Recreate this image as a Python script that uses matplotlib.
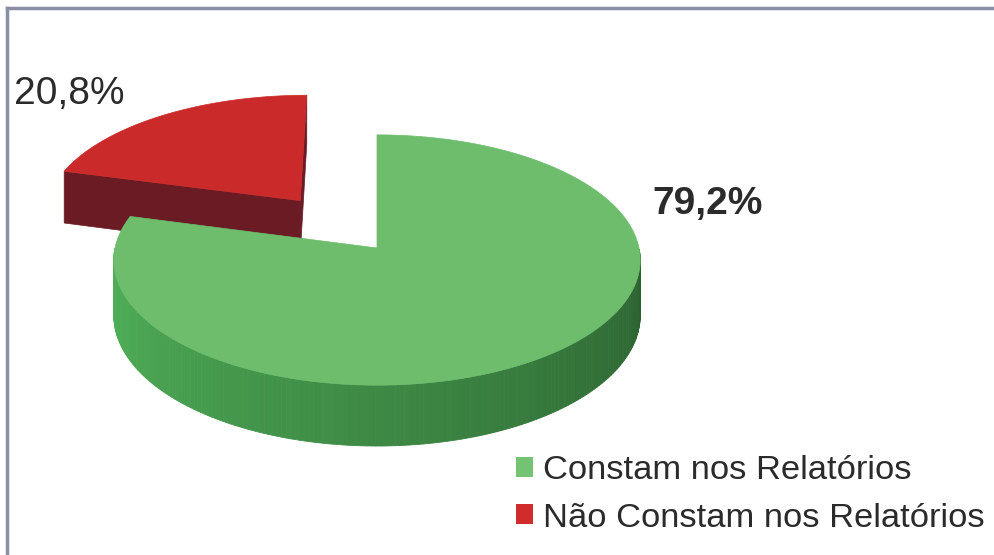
import numpy as np
import matplotlib.pyplot as plt
from matplotlib.patches import Polygon, Patch

labels = ['Constam nos Relatórios', 'Não Constam nos Relatórios']
values = [79.2, 20.8]
pct_text = ['79,2%', '20,8%']

top_colors = ['#6dbd6d', '#cb2a2a']
side_colors = ['#3f8c46', '#6a1b24']
legend_colors = ['#74c274', '#d02c2c']

# geometry of the 3d pie (pixel space)
CX, CY = 377, 248
A, B = 262, 124
DEPTH = 55
K = 0.096
EXPLODE = [0.0, 0.5]

plt.rcParams['font.family'] = ['Liberation Sans', 'DejaVu Sans']

fig = plt.figure(figsize=(9.95, 5.55), dpi=100)
ax = fig.add_axes([0, 0, 1, 1])
ax.set_xlim(0, 995)
ax.set_ylim(555, 0)
ax.axis('off')


def proj(u, v, z):
    # u: right, v: toward viewer, z: 0 top / 1 bottom
    w = 1 - K * v
    return CX + A * u / w, CY + (B * v + DEPTH * z) / w


def pt(theta, off, z, r=1.0):
    u = off[0] + r * np.cos(theta)
    v = off[1] - r * np.sin(theta)
    return proj(u, v, z)


def shade(col, f):
    c = np.array(plt.matplotlib.colors.to_rgb(col))
    return np.clip(c * f, 0, 1)


# slice angles, start at 12 o'clock, clockwise
angles = []
start = 90.0
for val in values:
    sweep = val / sum(values) * 360
    angles.append((start - sweep, start))
    start -= sweep

# draw the small (back) slice first, then the big one
for i in [1, 0]:
    a0, a1 = np.radians(angles[i][0]), np.radians(angles[i][1])
    mid = (a0 + a1) / 2
    off = (EXPLODE[i] * np.cos(mid), -EXPLODE[i] * np.sin(mid))
    apex_t = proj(off[0], off[1], 0)
    apex_b = proj(off[0], off[1], 1)

    # cut faces (radial walls)
    for a, sgn in [(a0, -1), (a1, 1)]:
        # outward normal direction of the wall
        nrm = a + sgn * np.pi / 2
        nu, nv = np.cos(nrm), -np.sin(nrm)
        cam = np.array([0 - (off[0] + 0.5 * np.cos(a)), 3.0 - (off[1] - 0.5 * np.sin(a))])
        if nu * cam[0] + nv * cam[1] > 0:
            p_t = pt(a, off, 0)
            p_b = pt(a, off, 1)
            ax.add_patch(Polygon([apex_t, p_t, p_b, apex_b], closed=True,
                                 facecolor=side_colors[i], edgecolor=side_colors[i], lw=0.5))

    # outer wall, only the front half is visible
    th = np.linspace(a0, a1, 300)
    th = np.mod(th, 2 * np.pi)
    th = np.sort(th[(th >= np.pi) & (th <= 2 * np.pi)])
    if len(th) > 1:
        for k in range(len(th) - 1):
            t0, t1 = th[k], th[k + 1]
            f = 1.28 - 0.6 * (t0 - np.pi) / np.pi
            col = shade(side_colors[i], f)
            quad = [pt(t0, off, 0), pt(t1, off, 0), pt(t1, off, 1), pt(t0, off, 1)]
            ax.add_patch(Polygon(quad, closed=True, facecolor=col, edgecolor=col, lw=0.6))

    # top face
    th = np.linspace(a0, a1, 300)
    pts = [apex_t] + [pt(t, off, 0) for t in th]
    ax.add_patch(Polygon(pts, closed=True, facecolor=top_colors[i],
                         edgecolor=top_colors[i], lw=0.5))

# percentage labels
ax.text(652, 204, pct_text[0], fontsize=28, fontweight='bold', color='#2b2b2b',
        ha='left', va='center')
ax.text(14, 94, pct_text[1], fontsize=28, color='#2b2b2b', ha='left', va='center')

# frame (cut at the right and bottom)
ax.plot([7, 7], [8, 560], color='#8a8fa6', lw=2.5, clip_on=False)
ax.plot([7, 1000], [8, 8], color='#8a8fa6', lw=2.5, clip_on=False)

handles = [Patch(facecolor=c, edgecolor='none') for c in legend_colors]
leg = ax.legend(handles, labels, loc='upper left', bbox_to_anchor=(516, 455),
                bbox_transform=ax.transData, frameon=False, fontsize=24.8,
                handlelength=0.5, handleheight=0.5, handletextpad=0.28,
                labelspacing=0.48, borderpad=0, borderaxespad=0)
for t in leg.get_texts():
    t.set_color('#2b2b2b')

fig.savefig('out.png', dpi=100)
